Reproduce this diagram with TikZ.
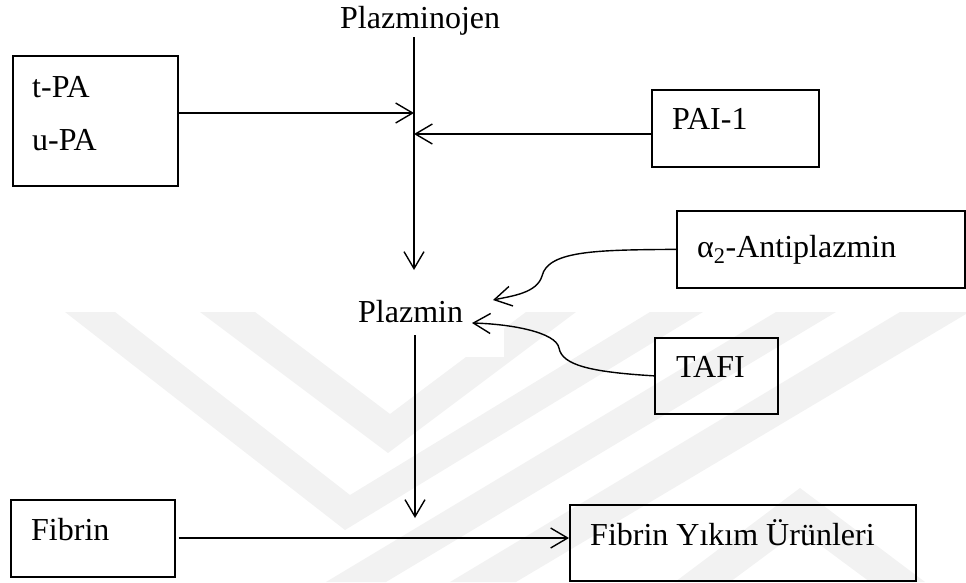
\documentclass[tikz,border=0pt]{standalone}
\usepackage{fontspec}
\setmainfont{Liberation Serif}
\usetikzlibrary{arrows.meta}
\begin{document}
\begin{tikzpicture}[x=1pt,y=-1pt,
  font=\fontsize{32}{38}\selectfont,
  box/.style={draw, line width=1.7pt, anchor=north west, inner sep=0pt},
  lbl/.style={anchor=base west, inner sep=0pt},
  arr/.style={line width=1.4pt, -{Straight Barb[length=17pt,width=20pt,line width=1.4pt]}},
  wm/.style={fill=black!5, draw=none}]
\useasboundingbox (0,0) rectangle (966,582);

% faint background emblem
\fill[wm] (200,312) -- (255,312) -- (390,414) -- (526,312) -- (576,312) -- (388,453) -- cycle;
\fill[wm] (65,312) -- (115,312) -- (350,495) -- (650,312) -- (703,312) -- (345,530) -- cycle;
\fill[wm] (776,312) -- (836,312) -- (386,582) -- (326,582) -- cycle;
\fill[wm] (900,312) -- (966,312) -- (966,314) -- (516,582) -- (450,582) -- cycle;
\fill[wm] (800,488) -- (925,582) -- (870,582) -- (800,530) -- (730,582) -- (675,582) -- cycle;
\fill[white] (340,290) rectangle (504,357);

% boxes
\node[box, minimum width=165pt, minimum height=130pt] (tpabox) at (12,55) {};
\node[box, minimum width=167pt, minimum height=77pt] (paibox) at (651,89) {};
\node[box, minimum width=288pt, minimum height=77pt] (a2box) at (676,210) {};
\node[box, minimum width=123pt, minimum height=76pt] (tafibox) at (654,337) {};
\node[box, minimum width=164pt, minimum height=77pt] (fibbox) at (10,499) {};
\node[box, minimum width=346pt, minimum height=76pt] (fyubox) at (569,504) {};

% labels
\node[lbl] (plg) at (340,28) {Plazminojen};
\node[lbl] (tpa) at (32,97) {t-PA};
\node[lbl] (upa) at (32,150) {u-PA};
\node[lbl] (pai) at (672,129) {PAI-1};
\node[lbl] (a2) at (697,257) {α\textsubscript{2}-Antiplazmin};
\node[lbl] (plm) at (358,322) {Plazmin};
\node[lbl] (tafi) at (676,377) {TAFI};
\node[lbl] (fib) at (31,540) {Fibrin};
\node[lbl] (fyu) at (590,545) {Fibrin Yıkım Ürünleri};

% junction points
\coordinate (axtop) at (414,37);
\coordinate (axend) at (414,270);
\coordinate (jn1) at (414,113);
\coordinate (jn2) at (414,134);
\coordinate (pltop) at (415,335);
\coordinate (plend) at (415,518);
\coordinate (fibline) at (0,538);
\coordinate (tipA) at (493,300);
\coordinate (tipT) at (472,323);

% connectors
\draw[arr] (axtop) -- (axend);
\draw[arr] (tpabox.east |- jn1) -- (jn1);
\draw[arr] (paibox.west |- jn2) -- (jn2);
\draw[arr] (pltop) -- (plend);
\draw[arr] ([xshift=3pt]fibbox.east |- fibline) -- (fyubox.west |- fibline);
\draw[arr] (a2box.west) .. controls (600,250) and (548,250) .. (542,276)
  .. controls (537,293) and (512,296) .. (tipA);
\draw[arr] (tafibox.west) .. controls (590,372) and (562,365) .. (559,348)
  .. controls (556,332) and (510,324) .. (tipT);
\end{tikzpicture}
\end{document}
